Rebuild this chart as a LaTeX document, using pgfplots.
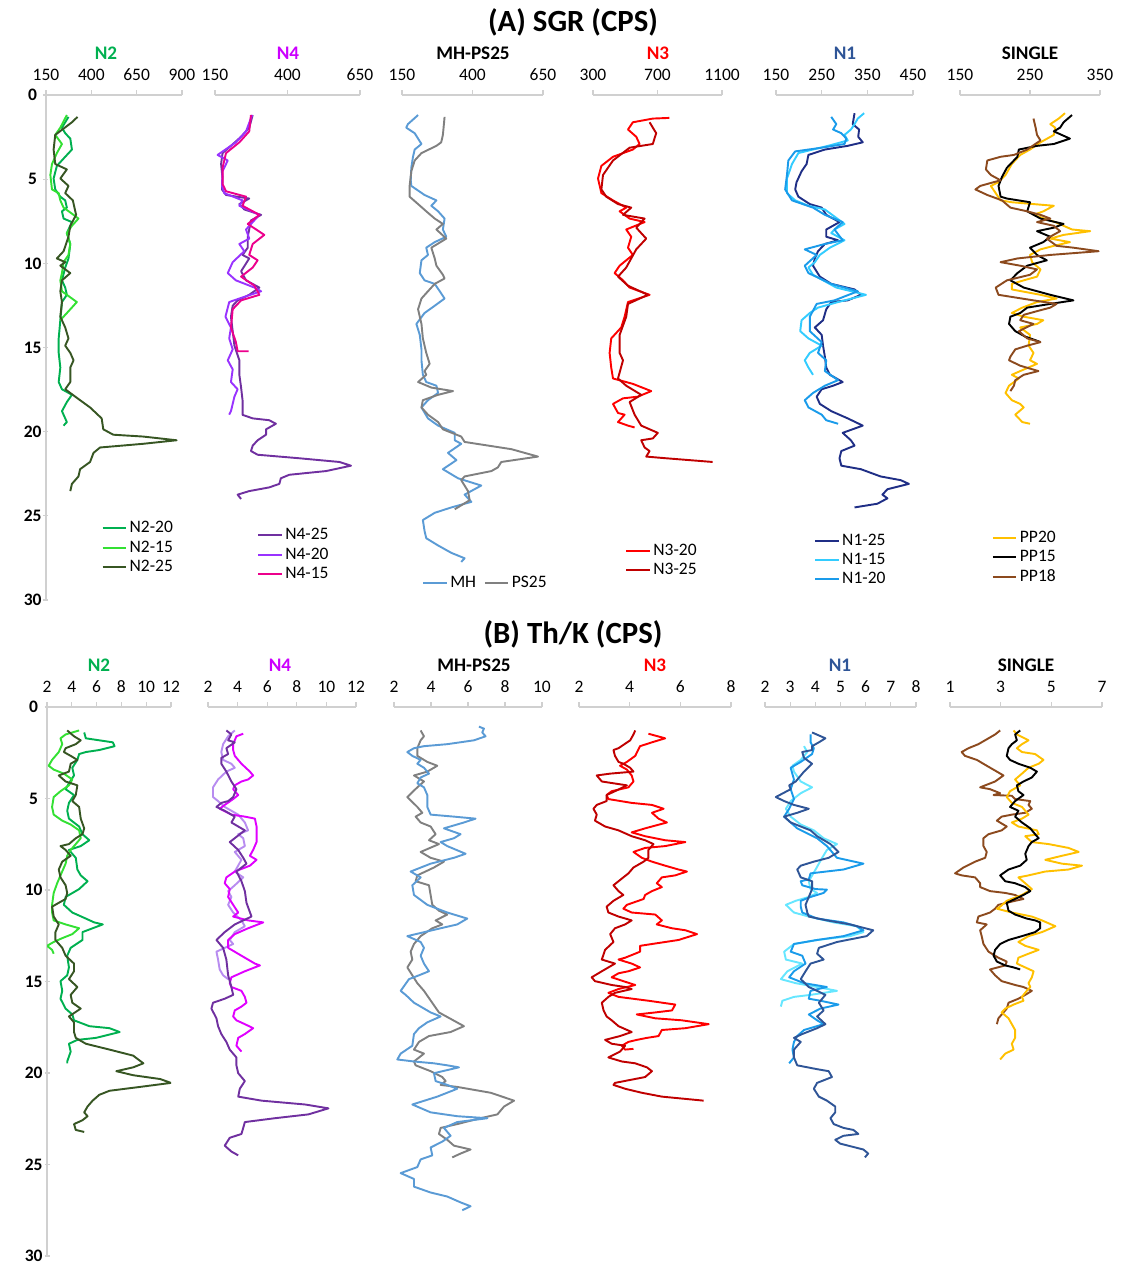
\documentclass[border=0pt]{standalone}
\usepackage{pgfplots}
\pgfplotsset{compat=1.18}
\usepackage{fontspec}
\setmainfont{Carlito}

\def\u{0.6pt}
\newcommand\tickfont{\fontsize{10.5}{12}\selectfont}
\newcommand\legfont{\fontsize{10.5}{12}\selectfont}
\newcommand\ttlfont{\fontsize{11.5}{13}\selectfont\bfseries}

\definecolor{axgray}{HTML}{D0D0D0}
\definecolor{ntwo}{HTML}{00B050}
\definecolor{ntwolt}{HTML}{33E033}
\definecolor{ntwodk}{HTML}{375623}
\definecolor{nfourttl}{HTML}{CC00FF}
\definecolor{nfourdk}{HTML}{7030A0}
\definecolor{nfourmid}{HTML}{9933FF}
\definecolor{nfourlav}{HTML}{B88CF0}
\definecolor{nfourmag}{HTML}{E000FF}
\definecolor{mhblue}{HTML}{5B9BD5}
\definecolor{psgray}{HTML}{808080}
\definecolor{nthree}{HTML}{FF0000}
\definecolor{nthreedk}{HTML}{C00000}
\definecolor{nonettl}{HTML}{2F5597}
\definecolor{nonenavy}{HTML}{1F2E86}
\definecolor{nonesteel}{HTML}{2F5597}
\definecolor{nonelt}{HTML}{33CCFF}
\definecolor{noneltb}{HTML}{66E6FF}
\definecolor{nonemid}{HTML}{1A9BEA}
\definecolor{ppyel}{HTML}{FFC000}
\definecolor{ppbrown}{HTML}{8C4A1E}

\pgfplotsset{
  panel/.style={
    scale only axis, anchor=north west,
    y dir=reverse, ymin=0, ymax=30,
    axis x line=top,
    axis line style={-, draw=axgray, line width=0.7pt},
    major tick length=3pt, tick align=outside,
    tick style={draw=axgray, line width=0.7pt},
    xticklabel style={font=\tickfont, text=black},
    xticklabel shift=2pt,
    /pgf/number format/assume math mode=true,
    /pgf/number format/1000 sep={},
    every axis plot/.append style={line width=1.15pt, mark=none, line join=round},
    legend style={draw=none, fill=none, font=\legfont, row sep=0pt,
      nodes={inner sep=1.6pt}, cells={anchor=west}},
    legend image code/.code={\draw[##1, line width=1.2pt] (0pt,0pt) -- (14pt,0pt);},
  },
  depth/.style={
    axis y line=left,
    every outer y axis line/.append style={-},
    y axis line style={-},
    ytick={0,5,...,30},
    yticklabel style={font=\bfseries\tickfont, text=black, anchor=center, xshift=-6.5pt},
  },
  nodepth/.style={axis y line=none, ytick=\empty},
}

\begin{document}
\begin{tikzpicture}
\path[use as bounding box] (0,0) rectangle (1120*\u,-1265*\u);

% ===================== (A) SGR =====================
\node[font=\fontsize{18.5}{20}\selectfont\bfseries] at (573*\u,-22*\u) {(A) SGR (CPS)};

% N2
\begin{axis}[panel, depth, at={(46*\u,-95*\u)}, width=136*\u, height=505*\u,
  xmin=150, xmax=900, xtick={150,400,650,900},
  legend style={at={(axis description cs:0.37,0.168)}, anchor=north west}]
\addplot[ntwo] coordinates {(274,1.30) (238,1.94) (256,2.27) (284,2.59) (293,3.24) (256,3.67) (210,4.21) (192,4.96) (201,5.61) (229,6.04) (256,6.26) (265,6.69) (238,6.91) (247,7.34) (293,7.55) (265,8.20) (284,8.85) (274,9.71) (256,10.25) (238,11.01) (256,11.44) (265,11.87) (238,12.30) (229,13.38) (220,14.46) (220,15.32) (229,16.19) (220,17.05) (238,17.48) (293,17.81) (265,18.24) (238,18.78) (265,19.43) (247,19.64)};
\addplot[ntwolt] coordinates {(265,1.19) (229,1.94) (201,2.37) (238,2.91) (210,3.45) (183,4.10) (174,4.75) (183,5.61) (220,5.83) (229,6.26) (247,6.69) (302,7.12) (329,7.34) (293,7.77) (265,8.20) (284,8.85) (274,9.50) (247,9.93) (238,10.58) (229,11.01) (238,11.66) (265,11.87) (320,12.30) (284,12.73) (256,13.06) (229,13.38)};
\addplot[ntwodk] coordinates {(324,1.30) (293,1.62) (201,2.37) (192,3.24) (201,4.10) (265,4.42) (229,4.96) (274,5.40) (256,5.83) (298,6.26) (316,7.12) (284,7.77) (274,8.42) (247,9.28) (210,9.71) (256,9.93) (229,10.14) (284,10.58) (238,11.01) (229,11.66) (238,12.30) (229,13.17) (256,13.81) (274,14.46) (256,14.89) (284,15.32) (302,15.76) (284,16.19) (284,17.05) (256,17.48) (338,18.13) (393,18.56) (457,19.21) (466,19.86) (521,20.18) (686,20.29) (870,20.51) (686,20.72) (448,20.94) (412,21.26) (393,21.80) (338,22.23) (329,22.66) (293,23.10) (284,23.53)};
\legend{N2-20,N2-15,N2-25}
\end{axis}

% N4
\begin{axis}[panel, nodepth, at={(215*\u,-95*\u)}, width=145*\u, height=505*\u,
  xmin=150, xmax=650, xtick={150,400,650},
  legend style={at={(axis description cs:0.255,0.154)}, anchor=north west}]
\addplot[nfourdk] coordinates {(280,1.19) (268,1.94) (240,2.48) (205,3.02) (176,3.45) (171,4.10) (176,4.96) (174,5.61) (188,5.94) (268,6.15) (234,6.48) (251,6.80) (309,7.12) (274,7.45) (263,8.42) (263,9.07) (245,9.50) (268,9.71) (240,10.47) (257,11.01) (303,11.44) (268,11.87) (228,12.20) (211,12.52) (205,13.17) (211,14.03) (217,14.89) (234,15.76) (234,16.62) (240,17.38) (245,18.13) (245,19.0) (280,19.21) (337,19.32) (360,19.53) (326,19.86) (326,20.18) (297,20.51) (280,20.83) (274,21.15) (297,21.37) (441,21.58) (579,21.80) (619,22.02) (533,22.34) (406,22.56) (377,22.77) (372,23.10) (337,23.31) (268,23.53) (228,23.74) (240,24.0)};
\addplot[nfourmid] coordinates {(278,1.19) (257,2.16) (222,2.81) (159,3.56) (194,3.89) (176,4.53) (174,5.40) (182,5.83) (245,6.26) (234,6.58) (303,7.12) (280,7.55) (257,7.99) (268,8.53) (234,8.85) (251,9.28) (211,9.93) (194,10.58) (222,11.01) (286,11.44) (309,11.66) (234,12.09) (199,12.30) (186,13.17) (205,13.81) (199,14.46) (211,15.11) (194,15.76) (211,16.30) (205,17.05) (228,17.48) (217,17.92) (205,18.78) (199,18.99)};
\addplot[magenta] coordinates {(274,1.19) (268,2.16) (234,2.81) (188,3.45) (176,4.32) (176,5.29) (188,5.72) (257,6.04) (245,6.58) (303,7.12) (263,7.66) (320,8.31) (280,8.85) (268,9.50) (297,9.82) (280,10.25) (240,10.79) (286,11.33) (303,11.87) (240,12.20) (211,12.73) (205,13.81) (222,14.68) (228,15.22) (266,15.22)};
\legend{N4-25,N4-20,N4-15}
\end{axis}

% MH-PS25
\begin{axis}[panel, nodepth, at={(402*\u,-95*\u)}, width=141*\u, height=505*\u,
  xmin=150, xmax=650, xtick={150,400,650},
  legend columns=2,
  legend style={at={(axis description cs:0.106,0.059)}, anchor=north west,
    /tikz/every even column/.append style={column sep=3pt}}]
\addplot[mhblue] coordinates {(207,1.19) (171,1.73) (165,1.94) (195,2.27) (207,2.59) (219,2.91) (195,3.24) (189,3.67) (183,4.32) (181,5.07) (183,5.40) (230,5.94) (272,6.26) (254,6.58) (278,6.91) (301,7.34) (295,7.99) (307,8.42) (266,8.74) (236,9.07) (242,9.50) (219,9.82) (213,10.58) (230,11.01) (266,11.22) (284,11.66) (301,12.09) (266,12.52) (230,12.95) (201,13.60) (213,14.25) (219,15.11) (219,15.76) (224,16.62) (236,17.05) (272,17.27) (278,17.70) (242,18.13) (219,18.56) (242,19.21) (278,19.64) (337,20.07) (337,20.51) (360,20.72) (313,21.26) (343,21.69) (295,22.23) (349,22.77) (431,23.20) (372,23.74) (396,24.17) (325,24.50) (266,24.82) (224,25.25) (230,25.90) (236,26.33) (278,26.76) (325,27.20) (372,27.52) (360,27.74)};
\addplot[psgray] coordinates {(301,1.30) (295,2.37) (289,2.81) (272,3.02) (219,3.45) (195,3.89) (183,4.53) (177,5.40) (177,6.04) (207,6.48) (236,6.91) (266,7.34) (295,7.66) (272,7.99) (307,8.53) (254,9.07) (266,9.71) (272,10.14) (295,10.68) (301,10.90) (266,11.22) (242,11.66) (219,12.09) (207,12.73) (219,13.60) (224,14.46) (236,15.32) (248,15.97) (230,16.40) (236,16.62) (207,17.05) (254,17.38) (331,17.59) (278,17.81) (224,18.13) (219,18.56) (242,18.99) (278,19.43) (295,19.86) (360,20.29) (372,20.61) (538,21.04) (632,21.48) (502,21.80) (490,22.12) (467,22.34) (372,22.66) (360,22.88) (384,23.53) (390,24.07) (337,24.61)};
\legend{MH,PS25}
\end{axis}

% N3
\begin{axis}[panel, nodepth, at={(593*\u,-95*\u)}, width=129*\u, height=505*\u,
  xmin=300, xmax=1100, xtick={300,700,1100},
  legend style={at={(axis description cs:0.21,0.123)}, anchor=north west}]
\addplot[nthree] coordinates {(774,1.36) (671,1.40) (547,1.62) (517,2.05) (568,2.48) (589,2.91) (547,3.24) (424,3.67) (352,4.21) (331,4.96) (352,5.83) (424,6.26) (506,6.69) (465,6.91) (527,7.34) (620,7.55) (506,7.99) (537,8.42) (517,9.07) (547,9.50) (465,10.14) (434,10.58) (486,11.01) (527,11.44) (651,11.87) (517,12.30) (496,13.17) (475,13.81) (413,14.46) (403,15.32) (413,16.19) (424,16.84) (547,17.16) (661,17.59) (578,17.92) (486,18.02) (424,18.35) (455,18.89) (496,18.99) (455,19.43) (517,19.64) (558,19.75)};
\addplot[nthreedk] coordinates {(651,1.62) (671,1.94) (692,2.27) (681,2.59) (671,2.91) (527,3.13) (424,3.89) (362,4.75) (352,5.61) (382,6.04) (455,6.48) (537,6.69) (486,7.12) (620,7.34) (568,7.88) (630,8.53) (568,9.17) (537,9.71) (506,10.25) (455,10.79) (517,11.33) (640,11.87) (517,12.41) (506,13.17) (465,14.25) (465,15.32) (486,15.76) (455,16.84) (506,17.27) (599,17.81) (527,18.24) (558,18.99) (599,19.64) (702,20.07) (671,20.40) (599,20.51) (620,20.94) (651,21.15) (630,21.48) (754,21.58) (1042,21.80)};
\legend{N3-20,N3-25}
\end{axis}

% N1
\begin{axis}[panel, nodepth, at={(776*\u,-95*\u)}, width=137*\u, height=505*\u,
  xmin=150, xmax=450, xtick={150,250,350,450},
  legend style={at={(axis description cs:0.24,0.143)}, anchor=north west}]
\addplot[nonenavy] coordinates {(322,1.08) (318,1.73) (332,2.05) (330,2.48) (340,2.81) (307,3.02) (257,3.24) (221,3.56) (217,4.10) (206,4.53) (195,5.18) (192,5.61) (199,6.04) (224,6.48) (250,6.69) (260,7.12) (289,7.55) (260,7.99) (260,8.42) (286,8.63) (257,8.85) (242,9.28) (235,9.71) (231,10.14) (246,10.79) (271,11.22) (322,11.55) (336,11.87) (307,12.20) (271,12.30) (260,12.73) (253,13.38) (235,13.81) (250,14.25) (253,14.89) (257,15.54) (260,16.19) (268,16.62) (296,17.05) (275,17.27) (250,17.48) (239,17.92) (246,18.35) (271,18.78) (307,19.21) (340,19.64) (296,20.07) (314,20.51) (322,20.83) (293,21.15) (289,21.58) (293,22.02) (336,22.23) (379,22.66) (423,22.88) (441,23.10) (394,23.42) (383,23.74) (394,23.96) (372,24.28) (322,24.50)};
\addplot[nonelt] coordinates {(343,1.08) (329,1.40) (322,1.73) (314,2.05) (300,2.37) (307,2.70) (264,3.02) (199,3.45) (185,4.10) (174,4.96) (174,5.83) (192,6.26) (221,6.58) (257,6.80) (300,7.66) (278,7.99) (271,8.20) (300,8.63) (268,9.07) (246,9.50) (235,9.93) (221,10.25) (231,10.68) (282,11.44) (347,11.87) (286,12.30) (242,12.63) (224,12.95) (206,13.38) (203,14.03) (221,14.46) (250,14.89) (224,15.32) (213,15.76) (221,16.19) (231,16.62)};
\addplot[nonemid] coordinates {(271,1.30) (282,1.73) (275,2.05) (293,2.27) (304,2.59) (300,2.91) (250,3.13) (192,3.35) (177,3.89) (174,4.75) (170,5.61) (185,6.26) (231,6.69) (257,7.12) (296,7.55) (278,7.99) (296,8.63) (257,8.85) (213,9.17) (239,9.50) (213,10.14) (221,10.58) (271,11.22) (329,11.66) (278,12.20) (239,12.41) (224,13.17) (224,14.03) (250,14.68) (242,15.32) (260,15.76) (257,16.40) (286,16.94) (257,17.27) (231,17.70) (213,18.13) (221,18.56) (250,18.99) (260,19.32) (286,19.53)};
\legend{N1-25,N1-15,N1-20}
\end{axis}

% SINGLE
\begin{axis}[panel, nodepth, at={(960*\u,-95*\u)}, width=140*\u, height=505*\u,
  xmin=150, xmax=350, xtick={150,250,350},
  legend style={at={(axis description cs:0.19,0.149)}, anchor=north west}]
\addplot[ppyel] coordinates {(300,1.08) (291,1.40) (279,1.73) (286,1.94) (284,2.37) (265,2.81) (250,3.24) (236,3.56) (224,4.10) (215,4.75) (205,5.18) (194,5.40) (201,5.83) (208,6.26) (224,6.37) (255,6.48) (284,6.58) (269,6.91) (255,7.12) (286,7.55) (310,7.99) (336,8.09) (298,8.31) (279,8.53) (307,8.74) (284,8.96) (265,9.17) (250,9.50) (253,9.93) (265,10.36) (260,10.79) (241,11.01) (224,11.22) (224,11.55) (265,11.87) (288,12.09) (260,12.30) (239,12.63) (224,12.95) (241,13.17) (269,13.38) (260,13.60) (236,13.81) (250,14.25) (248,14.89) (255,15.32) (250,15.76) (260,15.97) (236,16.40) (224,16.62) (234,16.84) (220,17.27) (215,17.70) (224,18.13) (236,18.35) (241,18.56) (229,18.99) (239,19.43) (250,19.53)};
\addplot[black] coordinates {(310,1.19) (298,1.62) (293,1.94) (284,2.16) (307,2.59) (284,2.91) (260,3.02) (234,3.24) (232,3.67) (217,4.32) (210,4.86) (205,5.40) (208,6.04) (217,6.15) (250,6.37) (246,6.91) (265,7.34) (298,7.66) (284,7.88) (260,8.09) (279,8.42) (269,8.74) (250,9.07) (260,9.50) (274,9.82) (246,10.14) (232,10.58) (222,11.01) (241,11.44) (279,11.87) (312,12.20) (279,12.41) (246,12.63) (236,12.95) (222,13.17) (220,13.60) (229,14.03) (243,14.35) (258,14.57) (265,14.68)};
\addplot[ppbrown] coordinates {(255,1.40) (258,1.94) (260,2.37) (265,2.70) (246,3.24) (227,3.56) (208,3.67) (189,3.89) (187,4.42) (194,4.75) (208,5.07) (198,5.18) (179,5.40) (172,5.61) (189,5.94) (210,6.26) (222,6.69) (246,6.91) (265,7.12) (279,7.34) (260,7.55) (284,7.77) (293,8.09) (274,8.53) (288,8.96) (312,9.07) (348,9.28) (279,9.50) (232,9.71) (208,9.93) (236,10.14) (260,10.36) (250,10.68) (217,11.01) (201,11.44) (205,11.87) (255,12.20) (288,12.41) (279,12.63) (260,12.84) (241,13.06) (236,13.38) (255,13.60) (234,14.03) (246,14.46) (265,14.68) (246,14.89) (229,15.11) (222,15.54) (220,15.76) (236,16.08) (262,16.40) (241,16.62) (229,16.94) (227,17.27) (222,17.59)};
\legend{PP20,PP15,PP18}
\end{axis}

\node[font=\ttlfont, text=ntwo] at (106*\u,-53*\u) {N2};
\node[font=\ttlfont, text=nfourttl] at (288*\u,-53*\u) {N4};
\node[font=\ttlfont] at (473*\u,-53*\u) {MH-PS25};
\node[font=\ttlfont, text=nthree] at (658*\u,-53*\u) {N3};
\node[font=\ttlfont, text=nonettl] at (845*\u,-53*\u) {N1};
\node[font=\ttlfont] at (1030*\u,-53*\u) {SINGLE};

% ===================== (B) Th/K =====================
\node[font=\fontsize{18.5}{20}\selectfont\bfseries] at (573*\u,-634*\u) {(B) Th/K (CPS)};

% N2
\begin{axis}[panel, depth, at={(47*\u,-707*\u)}, width=124*\u, height=549*\u,
  xmin=2, xmax=12, xtick={2,4,...,12}]
\addplot[ntwo] coordinates {(5.00,1.39) (5.13,1.71) (6.22,1.82) (7.31,1.93) (7.45,2.14) (6.22,2.35) (5.13,2.46) (4.59,2.57) (4.45,2.89) (4.04,3.32) (4.18,3.74) (3.77,4.17) (3.50,4.49) (4.18,4.81) (3.77,5.24) (3.63,5.67) (3.77,6.10) (4.59,6.53) (4.86,6.95) (5.41,7.28) (4.72,7.60) (3.77,7.81) (4.32,8.24) (4.45,8.88) (4.72,9.20) (5.27,9.52) (4.59,9.95) (3.50,10.38) (3.36,10.81) (4.04,11.23) (5.13,11.56) (5.81,11.77) (6.50,11.88) (5.68,12.09) (4.86,12.30) (4.86,12.73) (3.91,13.16) (3.63,13.59) (3.77,14.23) (3.63,14.66) (3.09,14.98) (3.23,15.51) (3.09,15.94) (3.50,16.48) (4.04,16.80) (4.18,17.12) (5.41,17.44) (7.04,17.55) (7.86,17.76) (5.95,18.08) (4.45,18.19) (3.77,18.40) (3.91,18.83) (3.63,19.37) (3.63,19.47)};
\addplot[ntwolt] coordinates {(4.59,1.28) (3.50,1.50) (3.09,1.71) (3.23,2.03) (2.95,2.46) (2.41,2.89) (2.14,3.21) (2.54,3.42) (3.36,3.64) (4.04,3.96) (3.77,4.28) (3.09,4.60) (2.54,4.92) (2.41,5.46) (2.54,5.88) (3.23,6.21) (3.91,6.42) (4.59,6.74) (4.72,7.17) (4.32,7.49) (3.91,7.81) (3.63,8.13) (3.50,8.56) (3.09,9.20) (2.82,9.63) (2.54,10.16) (2.41,10.81) (2.41,11.23) (2.54,11.66) (3.50,11.88) (4.59,12.09) (4.04,12.41) (3.23,12.63) (2.54,12.84) (2.00,13.05) (2.41,13.27) (2.54,13.48)};
\addplot[ntwodk] coordinates {(3.63,1.28) (4.18,1.60) (4.72,1.82) (4.32,2.03) (3.50,2.25) (3.36,2.46) (3.91,2.67) (4.45,2.89) (3.91,3.10) (3.77,3.53) (2.95,3.74) (3.50,4.07) (4.45,4.28) (4.32,4.81) (4.04,5.14) (4.59,5.46) (4.72,6.10) (5.00,6.63) (4.86,6.95) (4.32,7.17) (3.77,7.49) (3.09,7.60) (3.50,7.81) (3.91,8.13) (3.23,8.45) (2.95,8.88) (3.09,9.31) (3.50,9.74) (3.63,10.16) (3.50,10.49) (2.95,10.70) (2.41,10.91) (2.54,11.45) (2.95,11.88) (2.68,12.30) (2.68,12.73) (3.23,13.16) (3.50,13.59) (4.18,14.02) (4.18,14.44) (3.77,14.87) (4.45,15.30) (3.91,15.73) (4.04,16.16) (4.72,16.48) (3.77,16.91) (4.18,17.23) (4.18,17.76) (4.32,18.08) (5.13,18.40) (7.04,18.72) (8.95,19.05) (9.77,19.47) (8.95,19.69) (7.59,19.90) (8.95,20.12) (11.13,20.33) (12.0,20.54) (9.49,20.76) (7.04,20.97) (6.22,21.19) (5.68,21.51) (5.27,21.83) (5.00,22.15) (5.27,22.36) (4.86,22.58) (4.18,22.79) (4.32,23.11) (5.00,23.22)};
\end{axis}

% N4
\begin{axis}[panel, nodepth, at={(208*\u,-707*\u)}, width=148*\u, height=549*\u,
  xmin=2, xmax=12, xtick={2,4,...,12}]
\addplot[nfourlav] coordinates {(3.81,1.28) (3.36,1.60) (3.02,2.03) (2.90,2.46) (3.02,2.89) (3.58,3.10) (3.81,3.32) (3.24,3.53) (2.68,3.96) (2.34,4.39) (2.34,4.92) (2.68,5.14) (3.13,5.46) (4.04,5.88) (4.49,6.31) (4.71,6.74) (4.04,6.95) (4.38,7.17) (4.49,7.60) (3.81,7.92) (4.26,8.35) (3.81,8.99) (4.38,9.31) (3.81,9.74) (3.36,10.06) (3.58,10.38) (3.36,10.81) (3.70,11.23) (4.26,11.66) (4.49,11.98) (3.81,12.30) (3.47,12.73) (3.70,12.95) (3.13,13.16) (2.57,13.37) (2.68,13.80) (2.79,14.34) (3.02,14.66) (3.36,14.87)};
\addplot[nfourmag] coordinates {(4.38,1.46) (3.92,1.60) (3.70,2.03) (3.70,2.35) (3.81,2.67) (4.26,3.10) (4.83,3.53) (5.05,3.74) (4.71,3.96) (4.26,4.07) (3.81,4.28) (3.70,4.49) (4.04,4.81) (3.70,5.03) (3.13,5.35) (2.79,5.56) (3.58,5.88) (4.49,5.99) (5.17,6.10) (5.28,6.53) (5.28,7.38) (5.05,7.81) (4.83,8.13) (5.28,8.35) (4.83,8.67) (3.81,8.99) (3.24,9.31) (3.13,9.63) (3.47,9.95) (3.36,10.38) (3.70,10.81) (4.04,11.23) (3.70,11.45) (4.71,11.66) (5.73,11.77) (4.71,12.09) (3.81,12.41) (3.36,12.73) (3.36,13.16) (4.26,13.59) (5.17,14.02) (5.51,14.12) (4.49,14.44) (3.58,14.77) (3.47,15.09) (3.58,15.30) (4.26,15.51) (4.49,15.84) (4.60,16.16) (4.26,16.37) (3.81,16.58) (3.70,16.91) (3.92,17.12) (4.49,17.33) (5.05,17.55) (4.49,17.87) (4.04,18.08) (3.92,18.51) (4.26,18.83)};
\addplot[nfourdk] coordinates {(3.24,1.28) (3.58,1.50) (3.36,1.82) (3.81,1.93) (3.24,2.25) (3.36,2.57) (2.90,2.78) (2.90,3.10) (3.24,3.53) (3.58,4.07) (3.92,4.49) (3.70,4.92) (3.36,5.14) (2.90,5.24) (2.57,5.46) (3.13,5.67) (3.81,5.99) (3.58,6.31) (4.49,6.74) (3.47,7.38) (4.04,7.81) (4.38,8.24) (4.60,8.56) (3.92,8.99) (4.26,9.52) (4.49,10.06) (4.60,10.70) (4.94,11.45) (3.81,11.88) (3.13,12.30) (2.57,12.73) (3.02,13.16) (3.24,13.80) (3.36,14.66) (3.58,15.30) (3.70,15.73) (3.13,15.94) (2.34,16.16) (2.23,16.48) (2.57,17.01) (2.68,17.44) (2.90,17.87) (3.24,18.30) (3.47,18.72) (3.92,19.15) (3.92,19.58) (4.04,20.01) (4.49,20.44) (4.15,20.86) (4.04,21.29) (5.62,21.51) (8.56,21.72) (10.14,21.93) (8.79,22.26) (6.52,22.47) (4.49,22.68) (4.38,23.00) (4.26,23.33) (3.47,23.54) (3.13,23.97) (3.58,24.29) (4.04,24.50)};
\end{axis}

% MH-PS25
\begin{axis}[panel, nodepth, at={(394*\u,-707*\u)}, width=148*\u, height=549*\u,
  xmin=2, xmax=10, xtick={2,4,...,10}]
\addplot[psgray] coordinates {(3.44,1.28) (3.62,1.60) (3.44,1.82) (3.26,2.25) (3.26,2.67) (3.80,3.00) (4.34,3.21) (3.80,3.53) (3.08,3.74) (3.62,4.07) (3.26,4.39) (2.72,4.92) (3.26,5.46) (3.53,5.78) (3.17,5.99) (3.44,6.31) (3.98,6.53) (4.25,6.95) (3.89,7.28) (4.43,7.49) (3.44,7.92) (3.98,8.24) (4.70,8.45) (4.16,8.77) (3.26,9.20) (3.17,9.52) (3.89,9.74) (3.98,10.27) (4.07,10.81) (4.43,11.13) (4.88,11.34) (4.25,11.66) (4.61,11.88) (4.07,12.09) (3.44,12.52) (3.08,12.95) (2.90,13.37) (2.99,13.80) (2.72,14.23) (2.99,14.66) (3.26,15.09) (3.62,15.51) (4.43,16.69) (5.78,17.44) (5.06,17.76) (3.89,17.98) (3.35,18.30) (3.08,18.72) (3.62,18.94) (3.08,19.37) (3.17,19.58) (3.98,19.90) (4.61,20.22) (4.79,20.44) (4.52,20.65) (5.42,20.76) (7.23,21.08) (8.49,21.51) (7.95,21.83) (7.59,22.26) (6.68,22.47) (5.42,22.79) (4.52,23.00) (4.43,23.33) (4.88,23.65) (5.24,23.97) (6.14,24.18) (5.60,24.40) (5.15,24.61)};
\addplot[mhblue] coordinates {(6.59,1.07) (6.86,1.18) (6.77,1.39) (6.95,1.60) (6.32,1.82) (4.88,2.03) (3.62,2.14) (3.08,2.25) (2.72,2.46) (2.99,2.67) (3.44,2.89) (3.26,3.10) (3.62,3.32) (3.89,3.64) (3.44,3.85) (3.26,4.17) (3.62,4.39) (3.80,4.81) (3.80,5.46) (3.98,5.88) (5.24,5.99) (6.41,6.10) (5.78,6.31) (4.70,6.63) (5.60,6.95) (5.24,7.17) (4.52,7.38) (4.88,7.60) (5.87,8.02) (5.24,8.24) (3.98,8.56) (2.90,8.99) (3.44,9.31) (2.99,9.74) (3.08,10.27) (3.80,10.81) (4.88,11.23) (5.96,11.56) (5.42,11.88) (4.52,12.09) (2.72,12.52) (3.44,12.84) (3.62,13.16) (3.44,13.59) (3.62,14.02) (3.89,14.44) (3.35,14.66) (2.81,14.87) (2.36,15.51) (2.63,15.73) (3.08,16.16) (3.44,16.37) (3.98,16.69) (4.52,16.91) (3.80,17.23) (3.35,17.55) (3.08,17.87) (2.99,18.51) (2.36,18.94) (2.18,19.26) (3.08,19.37) (4.16,19.47) (4.88,19.58) (5.51,19.69) (4.16,20.01) (4.25,20.44) (4.88,20.65) (5.42,20.86) (4.34,21.29) (2.99,21.72) (3.98,22.15) (5.42,22.36) (7.05,22.47) (5.42,22.68) (4.70,23.00) (5.06,23.43) (4.61,23.75) (3.98,24.07) (4.07,24.50) (3.44,24.72) (3.26,25.14) (2.36,25.47) (3.08,25.79) (3.08,26.21) (3.98,26.53) (4.88,26.75) (5.60,27.07) (6.14,27.28) (5.69,27.50)};
\end{axis}

% N3
\begin{axis}[panel, nodepth, at={(579*\u,-707*\u)}, width=152*\u, height=549*\u,
  xmin=2, xmax=8, xtick={2,4,6,8}]
\addplot[nthree] coordinates {(4.74,1.46) (5.40,1.71) (4.88,1.93) (4.41,2.14) (4.22,2.67) (3.89,3.00) (3.62,3.21) (3.89,3.42) (4.08,3.74) (4.15,4.07) (3.95,4.39) (3.29,4.60) (3.09,4.81) (3.16,5.03) (4.08,5.24) (4.88,5.35) (5.34,5.56) (4.88,5.78) (5.14,6.10) (5.47,6.31) (4.61,6.63) (4.08,6.85) (4.61,7.06) (5.40,7.28) (6.20,7.38) (5.40,7.60) (4.61,7.70) (4.15,7.92) (4.48,8.24) (4.88,8.45) (5.40,8.67) (5.93,8.88) (6.26,8.99) (5.80,9.20) (5.27,9.31) (5.07,9.63) (5.27,9.84) (4.88,10.06) (4.61,10.27) (4.55,10.49) (3.89,10.81) (3.75,11.02) (4.08,11.23) (5.01,11.34) (5.27,11.66) (5.07,11.88) (5.67,12.09) (6.20,12.20) (6.66,12.41) (5.93,12.73) (4.88,12.95) (4.41,13.05) (4.41,13.37) (3.82,13.70) (3.56,13.80) (4.08,14.02) (4.41,14.23) (3.95,14.44) (3.56,14.55) (3.29,14.77) (3.75,14.98) (4.22,15.19) (3.56,15.41) (3.16,15.62) (3.56,15.84) (4.74,16.05) (5.80,16.26) (5.67,16.58) (5.01,16.69) (4.28,16.80) (5.01,17.01) (6.06,17.12) (7.12,17.33) (6.20,17.55) (5.27,17.65) (5.14,17.98) (4.68,18.08) (4.28,18.19) (3.95,18.30) (3.69,18.51) (3.82,18.72) (4.15,18.68)};
\addplot[nthreedk] coordinates {(4.22,1.28) (4.15,1.50) (4.02,1.82) (3.56,2.25) (3.36,2.35) (3.42,2.67) (3.56,3.00) (3.75,3.10) (4.02,3.32) (4.15,3.53) (3.23,3.64) (2.70,3.74) (2.90,4.07) (3.89,4.28) (3.42,4.60) (3.09,4.81) (3.09,5.14) (2.70,5.35) (2.57,5.56) (2.70,5.88) (2.63,6.21) (3.03,6.53) (3.56,6.74) (4.08,7.06) (4.61,7.28) (4.94,7.49) (4.74,7.81) (4.74,8.24) (4.55,8.45) (4.15,8.77) (3.95,9.09) (3.56,9.52) (3.36,9.74) (3.56,10.06) (3.75,10.27) (3.36,10.59) (3.09,10.91) (3.16,11.23) (3.56,11.45) (4.08,11.66) (3.82,11.88) (3.42,12.09) (3.23,12.41) (3.36,12.84) (3.03,13.27) (2.90,13.80) (3.42,14.02) (2.90,14.44) (2.50,14.77) (2.63,14.98) (3.29,15.19) (3.82,15.30) (4.08,15.41) (3.42,15.62) (3.16,15.84) (2.90,16.16) (2.97,16.58) (3.09,16.91) (3.29,17.12) (3.56,17.44) (4.08,17.76) (3.62,17.98) (3.03,18.19) (3.29,18.40) (3.82,18.51) (3.62,18.83) (3.16,19.15) (3.69,19.37) (4.22,19.47) (4.68,19.69) (4.88,19.90) (4.61,20.22) (3.42,20.54) (3.36,20.65) (3.82,20.86) (4.48,21.08) (5.27,21.29) (6.92,21.51)};
\end{axis}

% N1
\begin{axis}[panel, nodepth, at={(765*\u,-707*\u)}, width=151*\u, height=549*\u,
  xmin=2, xmax=8, xtick={2,...,8}]
\addplot[noneltb] coordinates {(3.55,2.14) (3.68,2.46) (3.42,2.89) (3.09,3.21) (3.15,3.53) (3.42,4.07) (3.87,4.39) (3.42,4.71) (3.02,5.14) (2.83,5.56) (3.02,5.99) (3.42,6.42) (3.94,6.74) (4.33,7.17) (4.86,7.49) (4.46,7.81) (4.27,8.24) (4.01,8.88) (3.74,9.52) (3.81,9.95) (4.07,10.16) (3.74,10.38) (3.22,10.59) (2.83,10.81) (3.15,11.23) (3.74,11.45) (4.73,11.77) (5.64,11.98) (5.91,12.30) (5.38,12.52) (4.07,12.73) (3.15,12.95) (2.76,13.37) (2.83,13.80) (3.48,14.02) (2.89,14.44) (2.63,14.87) (3.22,15.09) (4.07,15.30) (4.86,15.51) (3.81,15.73) (3.15,15.84) (2.69,16.05) (2.63,16.37)};
\addplot[nonemid] coordinates {(3.81,1.50) (3.81,1.93) (3.94,2.25) (3.87,2.57) (3.42,3.00) (3.02,3.32) (3.15,3.96) (3.02,4.49) (3.15,5.03) (2.96,5.56) (2.76,5.99) (3.02,6.31) (3.28,6.63) (3.74,6.95) (4.07,7.17) (4.46,7.60) (4.66,7.92) (4.86,8.24) (5.91,8.56) (5.12,8.88) (3.81,9.09) (3.74,9.42) (3.42,9.52) (3.48,9.74) (4.01,9.95) (4.46,9.98) (4.33,10.16) (3.81,10.38) (3.42,10.59) (3.42,10.91) (3.48,11.23) (4.07,11.56) (5.12,11.77) (5.64,11.98) (5.91,12.20) (5.12,12.52) (4.07,12.73) (3.15,12.95) (3.02,13.37) (3.48,13.59) (3.61,14.02) (3.15,14.44) (2.96,14.77) (3.55,15.09) (4.46,15.30) (3.81,15.51) (3.74,15.94) (4.20,16.05) (4.92,16.26) (4.20,16.48) (3.74,16.80) (4.07,17.12) (4.33,17.33) (3.55,17.65) (3.28,17.98) (3.15,18.30) (3.09,18.72) (3.15,19.15) (2.96,19.47)};
\addplot[nonesteel] coordinates {(3.87,1.39) (4.40,1.71) (4.14,1.93) (3.87,2.14) (3.87,2.35) (3.48,2.46) (3.55,2.78) (3.87,3.10) (3.55,3.53) (3.22,4.07) (2.96,4.28) (3.02,4.49) (2.43,4.92) (2.76,5.14) (3.15,5.35) (3.74,5.56) (3.28,5.78) (2.76,5.99) (3.02,6.31) (3.42,6.53) (3.81,6.74) (4.07,7.06) (4.60,7.49) (4.92,7.92) (4.53,8.24) (3.94,8.45) (3.42,8.67) (3.28,8.88) (3.42,9.31) (3.87,9.52) (3.87,9.95) (3.74,10.38) (3.61,10.81) (3.68,11.23) (3.74,11.45) (4.46,11.66) (5.38,11.88) (6.30,12.20) (6.04,12.52) (4.86,12.84) (4.14,13.16) (4.07,13.48) (4.33,13.80) (3.81,14.02) (3.61,14.44) (3.42,14.87) (3.74,15.30) (4.07,15.51) (4.40,15.73) (4.14,16.16) (4.33,16.58) (4.07,16.91) (4.40,17.33) (4.07,17.55) (3.48,17.87) (3.15,18.08) (3.42,18.30) (3.15,18.72) (3.15,19.15) (3.28,19.58) (4.07,19.79) (4.53,19.90) (4.66,20.22) (4.07,20.54) (3.94,20.86) (4.14,21.29) (4.46,21.51) (4.79,21.83) (4.79,22.15) (4.60,22.47) (4.73,22.79) (5.12,23.00) (5.51,23.11) (5.71,23.33) (5.12,23.43) (4.79,23.65) (4.99,23.86) (5.91,24.18) (6.10,24.40) (5.97,24.61)};
\end{axis}

% SINGLE
\begin{axis}[panel, nodepth, at={(950*\u,-707*\u)}, width=152*\u, height=549*\u,
  xmin=1, xmax=7, xtick={1,3,5,7}]
\addplot[ppbrown] coordinates {(2.98,1.28) (2.78,1.50) (2.52,1.71) (2.12,2.03) (1.73,2.25) (1.46,2.46) (1.59,2.67) (2.06,2.89) (2.45,3.21) (2.85,3.53) (3.11,3.74) (2.78,4.07) (2.39,4.28) (2.19,4.39) (2.58,4.49) (2.98,4.71) (2.72,4.81) (3.44,4.85) (3.57,5.03) (4.17,5.14) (4.10,5.35) (4.23,5.56) (3.97,5.78) (3.44,5.88) (3.04,5.99) (2.85,6.21) (3.24,6.53) (3.04,6.74) (2.52,6.95) (2.32,7.17) (2.32,7.60) (2.45,7.92) (2.39,8.24) (1.99,8.45) (1.53,8.77) (1.20,9.09) (1.46,9.20) (1.99,9.31) (2.19,9.63) (2.19,9.84) (2.58,10.06) (3.18,10.16) (3.57,10.27) (3.90,10.49) (3.57,10.59) (2.91,10.81) (2.78,11.02) (2.58,11.23) (2.12,11.45) (2.06,11.77) (2.45,11.88) (2.19,12.20) (2.25,12.52) (2.32,12.95) (2.52,13.37) (2.91,13.70) (3.24,13.91) (3.18,14.12) (2.58,14.34) (2.78,14.66) (3.04,14.98) (3.57,15.19) (3.90,15.30) (4.23,15.51) (3.97,15.73) (3.70,15.94) (3.31,16.16) (3.24,16.48) (3.11,16.69) (2.91,17.01) (2.85,17.33)};
\addplot[ppyel] coordinates {(3.51,1.28) (3.64,1.50) (4.10,1.82) (3.84,2.03) (3.64,2.25) (3.84,2.46) (4.36,2.57) (4.69,2.89) (4.50,3.10) (4.10,3.32) (3.84,3.64) (3.57,3.96) (3.77,4.28) (3.37,4.60) (3.24,4.92) (3.44,5.24) (3.84,5.46) (3.97,5.67) (4.10,5.88) (3.84,6.10) (3.44,6.31) (3.70,6.53) (4.43,6.74) (4.50,6.95) (3.97,7.06) (4.23,7.38) (4.89,7.49) (5.68,7.70) (6.08,7.92) (5.42,8.13) (4.76,8.35) (5.42,8.56) (6.21,8.67) (5.68,8.88) (4.76,8.99) (4.10,9.20) (3.70,9.31) (3.97,9.63) (4.23,9.95) (3.84,10.27) (3.24,10.59) (2.98,10.91) (2.85,11.02) (3.44,11.23) (4.23,11.45) (4.63,11.66) (5.16,11.98) (4.63,12.30) (4.10,12.52) (3.70,12.84) (3.97,13.05) (4.50,13.27) (4.10,13.48) (3.70,13.70) (3.64,14.02) (3.97,14.23) (4.30,14.44) (4.23,14.77) (4.10,15.09) (4.17,15.30) (4.03,15.51) (3.84,15.84) (3.90,16.05) (3.51,16.26) (3.18,16.48) (3.04,16.69) (3.31,17.01) (3.44,17.33) (3.57,17.65) (3.57,18.08) (3.44,18.40) (3.51,18.72) (3.18,18.94) (2.98,19.26)};
\addplot[black] coordinates {(3.77,1.28) (3.57,1.50) (3.64,1.82) (3.44,2.03) (3.31,2.25) (3.24,2.67) (3.37,2.89) (3.70,3.10) (4.17,3.32) (4.43,3.53) (4.23,3.85) (3.90,4.07) (3.64,4.28) (3.70,4.60) (3.90,4.81) (3.57,5.14) (3.37,5.46) (3.70,5.67) (3.57,5.99) (3.84,6.31) (4.17,6.63) (4.36,6.95) (4.50,7.17) (4.23,7.38) (4.10,7.60) (3.97,8.02) (4.03,8.35) (3.77,8.67) (3.31,8.88) (2.98,9.20) (3.18,9.52) (3.57,9.63) (3.97,9.84) (4.17,10.06) (3.90,10.27) (3.57,10.49) (3.24,10.70) (3.31,11.13) (3.57,11.34) (4.03,11.56) (4.36,11.66) (4.56,11.77) (4.56,12.09) (4.36,12.30) (3.84,12.52) (3.31,12.73) (2.98,12.95) (2.78,13.27) (2.72,13.59) (2.85,13.91) (3.18,14.12) (3.51,14.23) (3.77,14.34)};
\end{axis}

\node[font=\ttlfont, text=ntwo] at (99*\u,-665*\u) {N2};
\node[font=\ttlfont, text=nfourttl] at (280*\u,-665*\u) {N4};
\node[font=\ttlfont] at (474*\u,-665*\u) {MH-PS25};
\node[font=\ttlfont, text=nthree] at (655*\u,-665*\u) {N3};
\node[font=\ttlfont, text=nonettl] at (840*\u,-665*\u) {N1};
\node[font=\ttlfont] at (1026*\u,-665*\u) {SINGLE};
\end{tikzpicture}
\end{document}
